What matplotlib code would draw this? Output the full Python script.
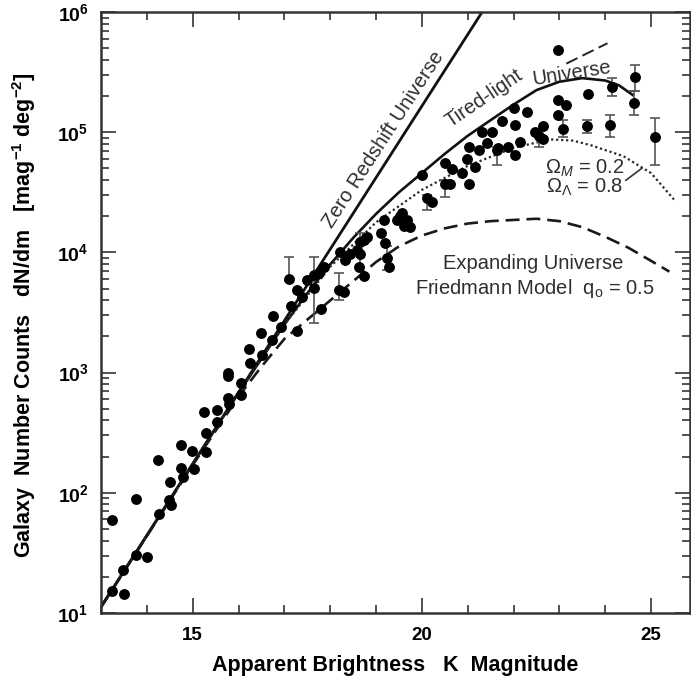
import numpy as np
import matplotlib
matplotlib.use("Agg")
import matplotlib.pyplot as plt
from matplotlib.ticker import FixedLocator, MultipleLocator, LogLocator, NullFormatter

plt.rcParams['font.family'] = ['Liberation Sans', 'DejaVu Sans']
plt.rcParams['mathtext.fontset'] = 'custom'
plt.rcParams['mathtext.rm'] = 'Liberation Sans'
plt.rcParams['mathtext.it'] = 'Liberation Sans:italic'
plt.rcParams['mathtext.bf'] = 'Liberation Sans:bold'
plt.rcParams['lines.scale_dashes'] = False

# galaxy counts, K magnitude vs log10 N
obs_mag = [13.25, 13.50, 13.25, 13.76, 13.49, 13.76, 14.01, 14.24, 14.27, 14.48,
           14.52, 14.51, 14.74, 14.74, 14.78, 14.99, 15.03, 15.25, 15.28, 15.28,
           15.52, 15.54, 15.76, 15.79, 16.05, 16.05, 15.76, 15.76, 16.23, 16.26,
           16.48, 16.52, 16.76, 16.74, 16.92, 17.14, 17.28, 17.28, 17.39, 17.50,
           17.64, 17.75, 17.86, 17.79, 18.22, 18.30, 18.33, 18.44, 18.59, 18.66,
           18.81, 18.63, 18.73, 18.73, 19.10, 19.17, 19.20, 19.28, 19.46, 19.53,
           19.57, 19.62, 19.68, 19.75, 20.00, 20.22, 20.51, 20.66, 20.62, 20.88,
           21.02, 20.98, 21.02, 21.17, 21.24, 21.31, 21.42, 21.53, 21.67, 21.75,
           21.89, 22.00, 22.04, 22.04, 22.15, 22.29, 22.47, 22.65, 22.65, 22.98,
           22.98, 23.15, 22.98, 23.63]
obs_logn = [1.18, 1.16, 1.77, 1.95, 1.36, 1.48, 1.47, 2.27, 1.82, 1.94,
            1.90, 2.09, 2.40, 2.21, 2.13, 2.35, 2.20, 2.67, 2.50, 2.34,
            2.69, 2.59, 2.79, 2.74, 2.81, 2.91, 2.97, 3.00, 3.20, 3.08,
            3.33, 3.15, 3.47, 3.27, 3.38, 3.55, 3.69, 3.35, 3.63, 3.77,
            3.81, 3.83, 3.88, 3.53, 4.00, 3.67, 3.94, 3.99, 4.02, 4.09,
            4.13, 3.88, 3.80, 4.10, 4.16, 4.27, 4.08, 3.88, 4.27, 4.30,
            4.33, 4.22, 4.27, 4.21, 4.64, 4.42, 4.74, 4.69, 4.57, 4.66,
            4.57, 4.78, 4.88, 4.71, 4.85, 5.00, 4.91, 5.00, 4.87, 5.09,
            4.88, 5.20, 5.06, 4.81, 4.92, 5.17, 5.00, 5.05, 4.94, 5.68,
            5.27, 5.23, 5.14, 5.32]

# points with error bars: centre, lower, upper (log10 N)
eb_mag = [17.10, 17.64, 18.19, 18.66, 19.24, 20.11, 20.51, 21.64,
          22.55, 23.09, 23.60, 24.11, 24.14, 24.65, 24.62, 25.09]
eb_logn = [3.78, 3.70, 3.69, 3.99, 3.95, 4.45, 4.57, 4.85,
           4.97, 5.03, 5.05, 5.06, 5.38, 5.46, 5.24, 4.96]
eb_lo = [3.76, 3.41, 3.60, 3.88, 3.85, 4.35, 4.46, 4.73,
         4.88, 4.96, 4.99, 4.96, 5.30, 5.34, 5.14, 4.73]
eb_hi = [3.96, 3.96, 3.83, 4.16, 4.05, 4.48, 4.60, 4.88,
         5.01, 5.10, 5.10, 5.14, 5.45, 5.56, 5.34, 5.12]

# model curves
zero_mag = [13.0, 21.5]
zero_logn = [1.05, 6.11]

tired_mag = [13, 15, 16, 17, 17.5, 18, 18.5, 19, 19.5, 20, 20.5, 21, 21.5,
             22, 22.5, 23, 23.5, 24, 24.3, 24.6]
tired_logn = [1.05, 2.24, 2.83, 3.40, 3.66, 3.90, 4.12, 4.32, 4.50, 4.66, 4.82,
              4.97, 5.10, 5.23, 5.35, 5.42, 5.45, 5.43, 5.39, 5.31]
tired_ext_mag = [23.15, 24.05]
tired_ext_logn = [5.57, 5.74]

lam_mag = [13, 16, 17, 18, 19, 20, 21, 22, 22.8, 23.3, 23.7, 24.4, 25.0, 25.5]
lam_logn = [1.05, 2.83, 3.40, 3.88, 4.25, 4.52, 4.72, 4.87, 4.94, 4.93, 4.89,
            4.80, 4.66, 4.44]

fried_mag = [13, 15, 16, 16.5, 17, 17.5, 18, 18.5, 19, 19.5, 20, 20.5, 21, 21.5,
             22, 22.5, 23, 23.5, 24, 24.5, 25, 25.4]
fried_logn = [1.05, 2.23, 2.80, 3.05, 3.28, 3.44, 3.60, 3.76, 3.92, 4.05, 4.14,
              4.20, 4.24, 4.26, 4.27, 4.28, 4.26, 4.21, 4.13, 4.04, 3.93, 3.84]

leader_mag = [24.45, 24.80]
leader_logn = [4.60, 4.70]

fig = plt.figure(figsize=(6.91, 6.83), dpi=100)
ax = fig.add_axes([101 / 691, 70 / 683, 589 / 691, 601 / 683])

p = lambda v: 10 ** np.asarray(v, dtype=float)

ax.plot(zero_mag, p(zero_logn), color='#111111', lw=2.0)
ax.plot(tired_mag, p(tired_logn), color='#111111', lw=1.9)
ax.plot(tired_ext_mag, p(tired_ext_logn), color='#222222', lw=1.4, dashes=(9, 4))
ax.plot(lam_mag, p(lam_logn), color='#2a2a2a', lw=1.6, dashes=(1.6, 2.0))
ax.plot(fried_mag, p(fried_logn), color='#1a1a1a', lw=1.9, dashes=(10, 5))
ax.plot(leader_mag, p(leader_logn), color='#333333', lw=1.2)

eb_c = p(eb_logn)
ax.errorbar(eb_mag, eb_c, yerr=[eb_c - p(eb_lo), p(eb_hi) - eb_c], fmt='o',
            color='black', ms=6.8, ecolor='#555555', elinewidth=1.2,
            capsize=3.6, capthick=1.2, zorder=4)
ax.plot(obs_mag, p(obs_logn), 'o', color='black', ms=6.8, zorder=5)

ax.set_yscale('log')
ax.set_xlim(13.0, 25.85)
ax.set_ylim(10, 1e6)

ax.xaxis.set_major_locator(FixedLocator([15, 20, 25]))
ax.xaxis.set_minor_locator(MultipleLocator(1))
ax.set_xticklabels(['15', '20', '25'], fontweight='bold', fontsize=13.5)
ax.set_yticks([1e1, 1e2, 1e3, 1e4, 1e5, 1e6])
ax.set_yticklabels([r'$\mathbf{10^{%d}}$' % k for k in range(1, 7)], fontsize=14)
ax.yaxis.set_minor_locator(LogLocator(base=10, subs=np.arange(2, 10)))
ax.yaxis.set_minor_formatter(NullFormatter())

ax.tick_params(which='both', direction='in', top=True, right=True,
               color='#333333', width=1.2)
ax.tick_params(which='major', length=11)
ax.tick_params(which='minor', length=5.5)
ax.tick_params(axis='x', pad=10)
ax.tick_params(axis='y', pad=9)
for s in ax.spines.values():
    s.set_linewidth(1.8)
    s.set_color('#333333')

ax.set_xlabel('Apparent Brightness   K  Magnitude', fontsize=15.5, fontweight='bold')
ax.set_ylabel(r'Galaxy  Number Counts   dN/dm   [mag$^{\mathbf{-1}}$ deg$^{\mathbf{-2}}$]',
              fontsize=15.5, fontweight='bold')
ax.xaxis.set_label_coords(0.5, -0.087)
ax.xaxis.label.set_va('center')
ax.yaxis.set_label_coords(-0.131, 0.495)
ax.yaxis.label.set_va('center')

tc = '#2e2e2e'
ax.text(19.17, 10 ** 4.94, 'Zero Redshift Universe', rotation=57, fontsize=14.5,
        color=tc, ha='center', va='center', rotation_mode='anchor')
ax.text(21.36, 10 ** 5.28, 'Tired-light', rotation=34, fontsize=14.5,
        color=tc, ha='center', va='center', rotation_mode='anchor')
ax.text(23.27, 10 ** 5.49, 'Universe', rotation=9, fontsize=14.5,
        color=tc, ha='center', va='center', rotation_mode='anchor')
ax.text(23.56, 10 ** 4.70, r'$\Omega_{M}$ = 0.2', fontsize=14.5, color=tc,
        ha='center', va='center')
ax.text(23.56, 10 ** 4.54, r'$\Omega_{\Lambda}$ = 0.8', fontsize=14.5, color=tc,
        ha='center', va='center')
ax.text(22.43, 10 ** 3.91, 'Expanding Universe', fontsize=14.5, color=tc,
        ha='center', va='center')
ax.text(22.47, 10 ** 3.70, r'Friedmann Model  q$_{\mathrm{o}}$ = 0.5', fontsize=14.5,
        color=tc, ha='center', va='center')

fig.savefig('out.png', dpi=100)
